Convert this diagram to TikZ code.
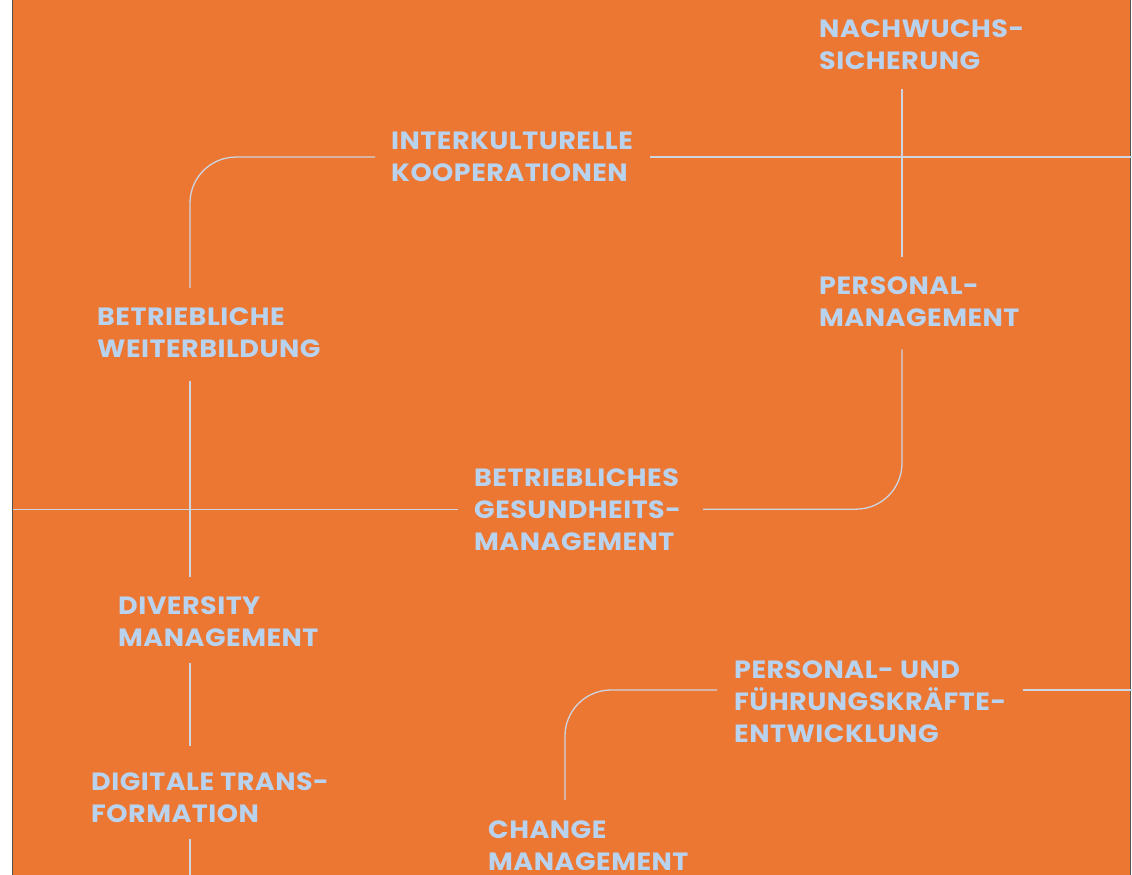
\documentclass[tikz,border=0pt]{standalone}
\usepackage{fontspec}
\setmainfont{Poppins}[LetterSpace=2, FakeStretch=1.08]
\usetikzlibrary{positioning}
\usetikzlibrary{calc}
\definecolor{bgorange}{RGB}{236,119,50}
\definecolor{labelblue}{RGB}{185,210,238}
\definecolor{linkgrey}{RGB}{205,212,226}
\definecolor{rimgrey}{RGB}{85,80,78}

\begin{document}
\begin{tikzpicture}[x=1pt, y=-1pt,
                bluelabelnode/.style={anchor=north west, inner sep=0pt, align=left, text=labelblue,
                    font=\fontsize{25}{32}\selectfont\bfseries},
                thinlink/.style={draw=linkgrey, line width=1.3pt, rounded corners=46pt},
                ]
                \useasboundingbox (0,0) rectangle (1132,875);
                \fill[white] (0,0) rectangle (1132,875);
                \fill[bgorange] (12,0) rectangle (1131,875);
                \draw[rimgrey, line width=1.5pt] (12.5,0) -- (12.5,875);
                \draw[rimgrey, line width=1.5pt] (1130.5,0) -- (1130.5,875);

                % columns and rims
                \coordinate (colA) at (190,0);
                \coordinate (colB) at (902,0);
                \coordinate (colC) at (565,0);
                \coordinate (rimL) at (13,0);
                \coordinate (rimR) at (1132,0);
                \coordinate (rimB) at (0,875);

                \node[bluelabelnode] (NS) at (819,20) {NACHWUCHS-\\SICHERUNG};
                \node[bluelabelnode] (IK) at (391,132) {INTERKULTURELLE\\KOOPERATIONEN};
                \node[bluelabelnode] (PM) at (819,276) {PERSONAL-\\MANAGEMENT};
                \node[bluelabelnode] (BW) at (97,308) {BETRIEBLICHE\\WEITERBILDUNG};
                \node[bluelabelnode] (BG) at (474,468) {BETRIEBLICHES\\GESUNDHEITS-\\MANAGEMENT};
                \node[bluelabelnode] (DM) at (118,596) {DIVERSITY\\MANAGEMENT};
                \node[bluelabelnode] (PF) at (734,660) {PERSONAL- UND\\FÜHRUNGSKRÄFTE-\\ENTWICKLUNG};
                \node[bluelabelnode] (DT) at (91,772) {DIGITALE TRANS-\\FORMATION};
                \node[bluelabelnode] (CM) at (488,821) {CHANGE\\MANAGEMENT};

                \draw[thinlink] ([yshift=20pt]BW.north -| colA) |- ([xshift=-16pt]IK.west);
                \draw[thinlink] ([xshift=17pt]IK.east) -- (IK.east -| rimR);
                \draw[thinlink] ([yshift=-19pt]NS.south -| colB) -- ([yshift=19pt]PM.north -| colB);
                \draw[thinlink] ([yshift=-23pt]PM.south -| colB) |- ([xshift=22pt]BG.east);
                \draw[thinlink] ([xshift=-16pt]BG.west) -- (BG.west -| rimL);
                \draw[thinlink] ([yshift=-23pt]BW.south -| colA) -- ([yshift=19pt]DM.north -| colA);
                \draw[thinlink] ([yshift=-17pt]DM.south -| colA) -- ([yshift=26pt]DT.north -| colA);
                \draw[thinlink] ([yshift=-17pt]DT.south -| colA) -- (rimB -| colA);
                \draw[thinlink] ([yshift=21pt]CM.north -| colC) |- ([shift={(-17pt,-30pt)}]PF.north west);
                \draw[thinlink] ([shift={(17pt,-30pt)}]PF.north east) -- ([yshift=-30pt]PF.north -| rimR);
\end{tikzpicture}
\end{document}
